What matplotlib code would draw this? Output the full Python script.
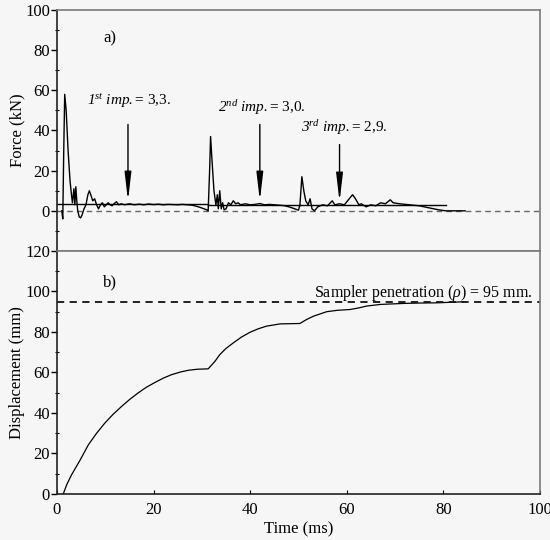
import matplotlib
matplotlib.use("Agg")
import matplotlib.pyplot as plt
from matplotlib.ticker import MultipleLocator

plt.rcParams['font.family'] = ['Liberation Serif', 'DejaVu Serif']
plt.rcParams['mathtext.fontset'] = 'custom'
plt.rcParams['mathtext.rm'] = 'Liberation Serif:italic'
plt.rcParams['mathtext.it'] = 'Liberation Serif:italic'

# ---- Data: force record (panel a) ----
force_t = [1.0, 1.2, 1.4, 1.6, 1.9, 2.3, 2.7, 3.0, 3.2, 3.5, 3.7, 3.9, 4.1, 4.3, 4.6, 4.9,
           5.2, 5.6, 6.0, 6.4, 6.7, 7.0, 7.4, 7.8, 8.2, 8.6, 9.0, 9.4, 9.8, 10.2, 10.6, 11.0,
           11.4, 11.8, 12.3, 12.8, 13.3, 14.0, 15.0, 16.0, 17.0, 18.0, 19.0, 20.0, 21.0, 22.0,
           23.0, 24.0, 25.0, 26.0, 27.0, 28.0, 29.0, 30.0, 31.0, 31.3, 31.6, 31.8, 32.1, 32.5,
           32.9, 33.2, 33.4, 33.7, 34.0, 34.3, 34.6, 35.0, 35.5, 36.0, 36.5, 37.0, 37.5, 38.0,
           39.0, 40.0, 41.0, 42.0, 43.0, 44.0, 45.0, 46.0, 47.0, 48.0, 49.0, 50.0, 50.3, 50.7,
           51.1, 51.5, 52.0, 52.4, 52.8, 53.3, 54.0, 55.0, 56.0, 57.0, 57.5, 58.5, 59.5, 60.5,
           61.2, 61.8, 62.5, 63.0, 64.0, 65.0, 66.0, 67.0, 68.0, 69.0, 69.6, 71.0, 73.0, 75.0,
           77.0, 79.0, 80.5, 84.5]
force_kn = [0.0, -4.0, 30.0, 58.0, 50.0, 30.0, 15.0, 8.0, 4.0, 11.0, 3.0, 12.0, 5.0, 0.0, -3.0, -3.5,
            -2.0, 1.0, 3.0, 8.0, 10.0, 8.0, 5.0, 6.0, 3.0, 1.0, 3.0, 4.0, 2.0, 3.0, 4.0, 3.0,
            2.5, 3.5, 4.5, 3.0, 3.5, 3.0, 3.5, 3.0, 3.3, 3.0, 3.4, 3.1, 3.3, 3.0, 3.2,
            3.1, 3.0, 3.2, 3.0, 2.8, 2.2, 1.4, 0.5, 0.0, 20.0, 37.0, 25.0, 10.0,
            3.0, 8.0, 1.0, 10.0, 1.0, 4.0, 0.5, 1.0, 4.0, 3.0, 5.0, 3.5, 4.0, 3.0,
            3.5, 3.0, 3.2, 3.6, 3.0, 3.2, 3.0, 2.8, 2.6, 2.0, 1.2, 0.3, 3.0, 17.0,
            10.0, 5.0, 3.0, 6.0, 1.0, 0.0, 2.0, 3.0, 2.5, 5.0, 3.0, 3.5, 3.0, 6.0,
            8.0, 6.0, 3.0, 3.5, 2.0, 3.0, 2.5, 4.0, 3.5, 5.5, 4.0, 3.5, 3.0, 2.5,
            1.5, 0.5, 0.0, 0.0]

# mean impedance levels (start, end, value)
mean_start = [0.0, 31.3, 50.3]
mean_end = [31.3, 50.3, 80.5]
mean_value = [3.3, 3.0, 2.9]

# ---- Data: displacement record (panel b) ----
disp_t = [1.3, 2.0, 3.0, 4.8, 6.5, 8.2, 9.9, 11.6, 13.4, 15.1, 16.8, 18.5, 20.3, 22.0,
          23.7, 25.5, 27.2, 29.0, 31.3,
          32.7, 33.7, 35.0, 36.5, 38.2, 40.0, 41.7, 43.4, 46.2, 50.3, 51.7, 53.1, 55.8,
          58.0, 60.7, 62.5, 64.1, 66.9, 71.7, 75.0, 78.6, 84.1]
disp_mm = [0.0, 4.5, 9.4, 16.8, 24.3, 30.0, 35.0, 39.3, 43.3, 46.8, 49.9, 52.7, 55.1, 57.2,
           58.9, 60.2, 61.1, 61.6, 61.8,
           65.5, 68.8, 71.9, 74.6, 77.5, 79.9, 81.6, 82.9, 84.0, 84.2, 86.2, 87.8, 90.0,
           90.7, 91.1, 91.9, 92.8, 93.6, 94.1, 94.3, 94.4, 94.9]
penetration = 95

arrow_t = [14.7, 42.0, 58.5]
arrow_top = [43, 43, 33]
arrow_tip = [5.0, 5.0, 4.5]
labels = [r"$1^{st}\ imp.$= 3,3.", r"$2^{nd}\ imp.$= 3,0.",
          r"$3^{rd}\ imp.$= 2,9."]
label_t = [15.0, 42.4, 59.4]
label_f = [54.5, 51.5, 41.7]

bg = '#f6f6f6'
spine_c = '#7a7a7a'

fig = plt.figure(figsize=(5.5, 5.4), dpi=100, facecolor=bg)
ax1 = fig.add_axes([0.1036, 0.5352, 0.8782, 0.4463], facecolor=bg)
ax2 = fig.add_axes([0.1036, 0.0852, 0.8782, 0.4500], facecolor=bg)

for ax in (ax1, ax2):
    for s in ax.spines.values():
        s.set_color(spine_c)
        s.set_linewidth(1.2)
    ax.spines['left'].set_color('#222222')
    ax.tick_params(axis='y', which='major', direction='out', length=4, width=1,
                   labelsize=12, pad=1)
    ax.yaxis.set_minor_locator(MultipleLocator(10))
    ax.tick_params(axis='y', which='minor', direction='inout', length=3, width=0.8)
    ax.set_xlim(0, 100)

# Panel a
ax1.axhline(0, color='#666666', lw=1, ls=(0, (4, 3)))
ax1.plot(force_t, force_kn, color='black', lw=1)
for s0, s1, v in zip(mean_start, mean_end, mean_value):
    ax1.plot([s0, s1], [v, v], color='black', lw=1)
ax1.set_ylim(-20, 100)
ax1.set_yticks([0, 20, 40, 60, 80, 100])
ax1.set_xticks([])
ax1.set_ylabel('Force (kN)', fontsize=12, labelpad=0)
ax1.text(11, 86, 'a)', fontsize=12, ha='center', va='center')
for at, atop, atip in zip(arrow_t, arrow_top, arrow_tip):
    ax1.annotate('', xy=(at, atip), xytext=(at, atop),
                 arrowprops=dict(arrowstyle='-|>,head_length=1.7,head_width=0.2',
                                 color='black', lw=1, mutation_scale=10,
                                 shrinkA=0, shrinkB=0))
for lt, lf, lab in zip(label_t, label_f, labels):
    ax1.text(lt, lf, lab, fontsize=11, ha='center', va='center')

# Panel b
ax2.plot(disp_t, disp_mm, color='black', lw=0.9)
ax2.axhline(penetration, color='#111111', lw=1.3, ls=(0, (4, 3)))
ax2.set_ylim(0, 120)
ax2.set_yticks([0, 20, 40, 60, 80, 100, 120])
ax2.set_xticks([0, 20, 40, 60, 80, 100])
ax2.tick_params(axis='x', direction='in', length=3, labelsize=12, pad=6)
ax2.spines['bottom'].set_color('#222222')
ax2.set_ylabel('Displacement (mm)', fontsize=12, labelpad=0)
ax2.set_xlabel('Time (ms)', fontsize=12, labelpad=2)
ax2.text(11, 104.7, 'b)', fontsize=12, ha='center', va='center')
ax2.text(98.5, 99.4, r"Sampler penetration ($\rho$) = 95 mm.", fontsize=11.5,
         ha='right', va='center')

fig.savefig('out.png', dpi=100, facecolor=bg)
